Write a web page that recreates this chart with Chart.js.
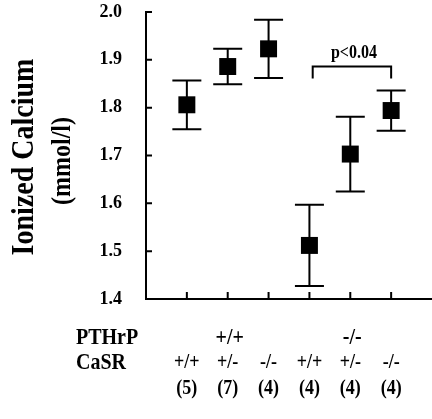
<!DOCTYPE html>
<html>
<head>
<meta charset="utf-8">
<script src="https://cdn.jsdelivr.net/npm/chart.js@4"></script>
<style>
  html, body { margin: 0; background: #fff; overflow: hidden; }
  #wrap { width: 432px; height: 419px; overflow: hidden; }
</style>
</head>
<body>
<div id="wrap"><canvas id="calciumChart" width="444" height="419"></canvas></div>
<script>
// group positions along x (1..6) and their values
const groupPos = [1, 2, 3, 4, 5, 6];
const means = [1.806, 1.886, 1.923, 1.512, 1.703, 1.794];
const errors = [0.051, 0.037, 0.061, 0.085, 0.078, 0.042];

const pthrpLabels = ['+/+', '-/-'];
const pthrpPos = [2, 5];
const casrLabels = ['+/+', '+/-', '-/-', '+/+', '+/-', '-/-'];
const countLabels = ['(5)', '(7)', '(4)', '(4)', '(4)', '(4)'];

const yMin = 1.4, yMax = 2.0;

// significance bracket between group 4 and group 6
const bracketFrom = 4.08, bracketTo = 6;
const bracketTop = 1.886, bracketLeg = 1.861;
const bracketText = 'p<0.04';

const serif = '"Liberation Serif", "Times New Roman", serif';

// the original lettering is a bit taller than Liberation Serif
function tallText(ctx, text, x, y, sy) {
    ctx.save();
    ctx.translate(x, y);
    ctx.scale(1, sy);
    ctx.fillText(text, 0, 0);
    ctx.restore();
}

const errorBars = {
    id: 'errorBars',
    beforeDatasetsDraw(chart) {
        const ctx = chart.ctx;
        const x = chart.scales.x, y = chart.scales.y;
        ctx.save();
        ctx.strokeStyle = '#000';
        ctx.lineWidth = 2;
        groupPos.forEach((p, i) => {
            const px = x.getPixelForValue(p);
            const top = y.getPixelForValue(means[i] + errors[i]);
            const bot = y.getPixelForValue(means[i] - errors[i]);
            ctx.beginPath();
            ctx.moveTo(px, top); ctx.lineTo(px, bot);
            ctx.moveTo(px - 14.5, top); ctx.lineTo(px + 14.5, top);
            ctx.moveTo(px - 14.5, bot); ctx.lineTo(px + 14.5, bot);
            ctx.stroke();
        });
        ctx.restore();
    },
    afterDraw(chart) {
        const ctx = chart.ctx;
        const x = chart.scales.x, y = chart.scales.y;
        const area = chart.chartArea;
        ctx.save();
        ctx.strokeStyle = '#000';
        ctx.fillStyle = '#000';
        ctx.lineWidth = 2;

        // inward ticks
        ctx.beginPath();
        y.ticks.forEach(t => {
            const py = y.getPixelForValue(t.value);
            ctx.moveTo(area.left, py); ctx.lineTo(area.left + 6, py);
        });
        groupPos.forEach(p => {
            const px = x.getPixelForValue(p);
            ctx.moveTo(px, area.bottom); ctx.lineTo(px, area.bottom - 7);
        });
        ctx.stroke();

        // bracket
        const bx1 = x.getPixelForValue(bracketFrom), bx2 = x.getPixelForValue(bracketTo);
        const by = y.getPixelForValue(bracketTop), bl = y.getPixelForValue(bracketLeg);
        ctx.beginPath();
        ctx.moveTo(bx1, bl); ctx.lineTo(bx1, by); ctx.lineTo(bx2, by); ctx.lineTo(bx2, bl);
        ctx.stroke();
        ctx.font = 'bold 16px ' + serif;
        ctx.textAlign = 'center';
        ctx.textBaseline = 'middle';
        tallText(ctx, bracketText, (bx1 + bx2) / 2 + 2, by - 13, 1.15);

        // y axis title
        ctx.save();
        ctx.translate(25, 157);
        ctx.rotate(-Math.PI / 2);
        ctx.font = 'bold 28px ' + serif;
        tallText(ctx, 'Ionized Calcium', 0, 0, 1.15);
        ctx.restore();
        ctx.save();
        ctx.translate(63, 161);
        ctx.rotate(-Math.PI / 2);
        ctx.font = 'bold 24px ' + serif;
        tallText(ctx, '(mmol/l)', 0, 0, 1.15);
        ctx.restore();

        // row labels under the axis
        ctx.textAlign = 'left';
        ctx.font = 'bold 20px ' + serif;
        tallText(ctx, 'PTHrP', 76, 338, 1.2);
        tallText(ctx, 'CaSR', 76, 363, 1.2);
        ctx.textAlign = 'center';
        ctx.font = 'bold 20px ' + serif;
        pthrpLabels.forEach((l, i) => tallText(ctx, l, x.getPixelForValue(pthrpPos[i]) + 2, 338, 1.15));
        ctx.font = 'bold 18px ' + serif;
        casrLabels.forEach((l, i) => tallText(ctx, l, x.getPixelForValue(groupPos[i]), 363, 1.15));
        countLabels.forEach((l, i) => tallText(ctx, l, x.getPixelForValue(groupPos[i]), 389, 1.15));
        ctx.restore();
    }
};

new Chart(document.getElementById('calciumChart'), {
    type: 'scatter',
    data: {
        datasets: [{
            data: groupPos.map((p, i) => ({ x: p, y: means[i] })),
            pointStyle: 'rect',
            pointRadius: 12,
            pointHoverRadius: 12,
            backgroundColor: '#000',
            borderWidth: 0
        }]
    },
    options: {
        responsive: false,
        animation: false,
        events: [],
        layout: { padding: { top: 12, left: 0, right: 0, bottom: 0 } },
        plugins: { legend: { display: false }, tooltip: { enabled: false } },
        scales: {
            x: {
                type: 'linear',
                min: 0,
                max: 7,
                grid: { display: false },
                border: { display: true, color: '#000', width: 2 },
                ticks: { display: false },
                afterFit: s => { s.height = 120; }
            },
            y: {
                min: yMin,
                max: yMax,
                grid: {
                    display: true,
                    drawOnChartArea: false,
                    drawTicks: true,
                    tickLength: 24,
                    tickColor: 'rgba(0,0,0,0)'
                },
                border: { display: true, color: '#000', width: 2 },
                ticks: {
                    stepSize: 0.1,
                    padding: 0,
                    color: '#000',
                    font: { family: serif, size: 18, weight: 'bold' },
                    callback: v => v.toFixed(1)
                },
                afterFit: s => { s.width = 146; }
            }
        }
    },
    plugins: [errorBars]
});
</script>
</body>
</html>
